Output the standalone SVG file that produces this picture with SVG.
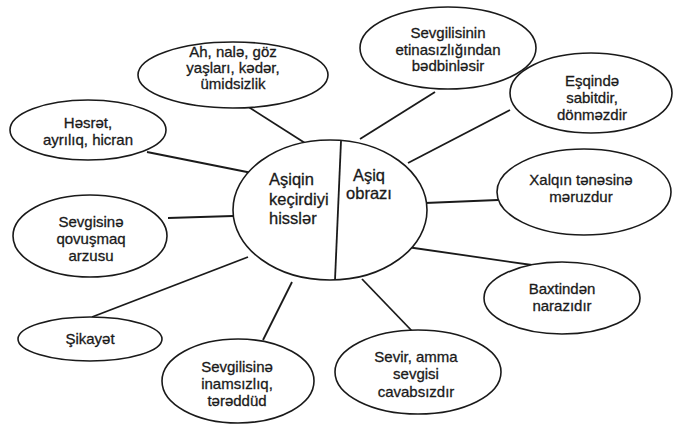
<svg xmlns="http://www.w3.org/2000/svg" width="675" height="428" viewBox="0 0 675 428">
<style>
.n{fill:#fff;stroke:#1a1a1a;stroke-width:1.6}
.t{font-family:"Liberation Sans",Arial,sans-serif;font-size:15px;fill:#1a1a1a;stroke:#1a1a1a;stroke-width:0.3;text-anchor:middle}
.c{font-size:16.5px}
.l{stroke:#1a1a1a;stroke-width:1.8;fill:none}
</style>
<rect width="675" height="428" fill="#fff"/>
<g id="connectors">
<line class="l" x1="247" y1="106" x2="305" y2="143"/>
<line class="l" x1="147" y1="152" x2="252" y2="173"/>
<line class="l" x1="168" y1="218" x2="233" y2="216"/>
<line class="l" x1="92" y1="317" x2="248" y2="257"/>
<line class="l" x1="263" y1="340" x2="292" y2="282"/>
<line class="l" x1="435" y1="92" x2="360" y2="139"/>
<line class="l" x1="510" y1="110" x2="408" y2="163"/>
<line class="l" x1="425" y1="203" x2="498" y2="200"/>
<line class="l" x1="407" y1="247" x2="532" y2="265"/>
<line class="l" x1="362" y1="279" x2="412" y2="331"/>
</g>
<g id="center">
<ellipse class="n" cx="330" cy="210" rx="97" ry="70"/>
<line class="l" x1="341" y1="141" x2="335" y2="280"/>
<text class="t c" style="text-anchor:start" x="269" y="185">Aşiqin</text>
<text class="t c" style="text-anchor:start" x="269" y="205">keçirdiyi</text>
<text class="t c" style="text-anchor:start" x="269" y="224">hisslər</text>
<text class="t c" x="369" y="181">Aşiq</text>
<text class="t c" x="369" y="199">obrazı</text>
</g>
<g id="n-ah">
<ellipse class="n" cx="233" cy="75" rx="95" ry="33"/>
<text class="t" x="233" y="57">Ah, nalə, göz</text>
<text class="t" x="233" y="73">yaşları, kədər,</text>
<text class="t" x="233" y="89">ümidsizlik</text>
</g>
<g id="n-hesret">
<ellipse class="n" cx="88" cy="130" rx="78" ry="30"/>
<text class="t" x="88" y="128">Həsrət,</text>
<text class="t" x="88" y="145">ayrılıq, hicran</text>
</g>
<g id="n-qovusmaq">
<ellipse class="n" cx="90" cy="236" rx="77" ry="41"/>
<text class="t" x="91" y="227">Sevgisinə</text>
<text class="t" x="91" y="244">qovuşmaq</text>
<text class="t" x="91" y="261">arzusu</text>
</g>
<g id="n-sikayet">
<ellipse class="n" cx="90" cy="339" rx="72" ry="22"/>
<text class="t" x="90" y="344">Şikayət</text>
</g>
<g id="n-inamsizliq">
<ellipse class="n" cx="238" cy="381" rx="76" ry="42"/>
<text class="t" x="237" y="372">Sevgilisinə</text>
<text class="t" x="237" y="389">inamsızlıq,</text>
<text class="t" x="237" y="406">tərəddüd</text>
</g>
<g id="n-etinasiz">
<ellipse class="n" cx="448" cy="48" rx="88" ry="41"/>
<text class="t" x="448" y="38">Sevgilisinin</text>
<text class="t" x="448" y="55">etinasızlığından</text>
<text class="t" x="448" y="71">bədbinləsir</text>
</g>
<g id="n-sabit">
<ellipse class="n" cx="591" cy="93" rx="81" ry="40"/>
<text class="t" x="592" y="86">Eşqində</text>
<text class="t" x="592" y="103">sabitdir,</text>
<text class="t" x="592" y="120">dönməzdir</text>
</g>
<g id="n-xalq">
<ellipse class="n" cx="584" cy="192" rx="87" ry="43"/>
<text class="t" x="581" y="185">Xalqın tənəsinə</text>
<text class="t" x="581" y="202">məruzdur</text>
</g>
<g id="n-baxt">
<ellipse class="n" cx="562" cy="298" rx="78" ry="36"/>
<text class="t" x="562" y="294">Baxtindən</text>
<text class="t" x="562" y="311">narazıdır</text>
</g>
<g id="n-sevir">
<ellipse class="n" cx="418" cy="372" rx="83" ry="42"/>
<text class="t" x="416" y="362">Sevir, amma</text>
<text class="t" x="416" y="379">sevgisi</text>
<text class="t" x="416" y="397">cavabsızdır</text>
</g>
</svg>
